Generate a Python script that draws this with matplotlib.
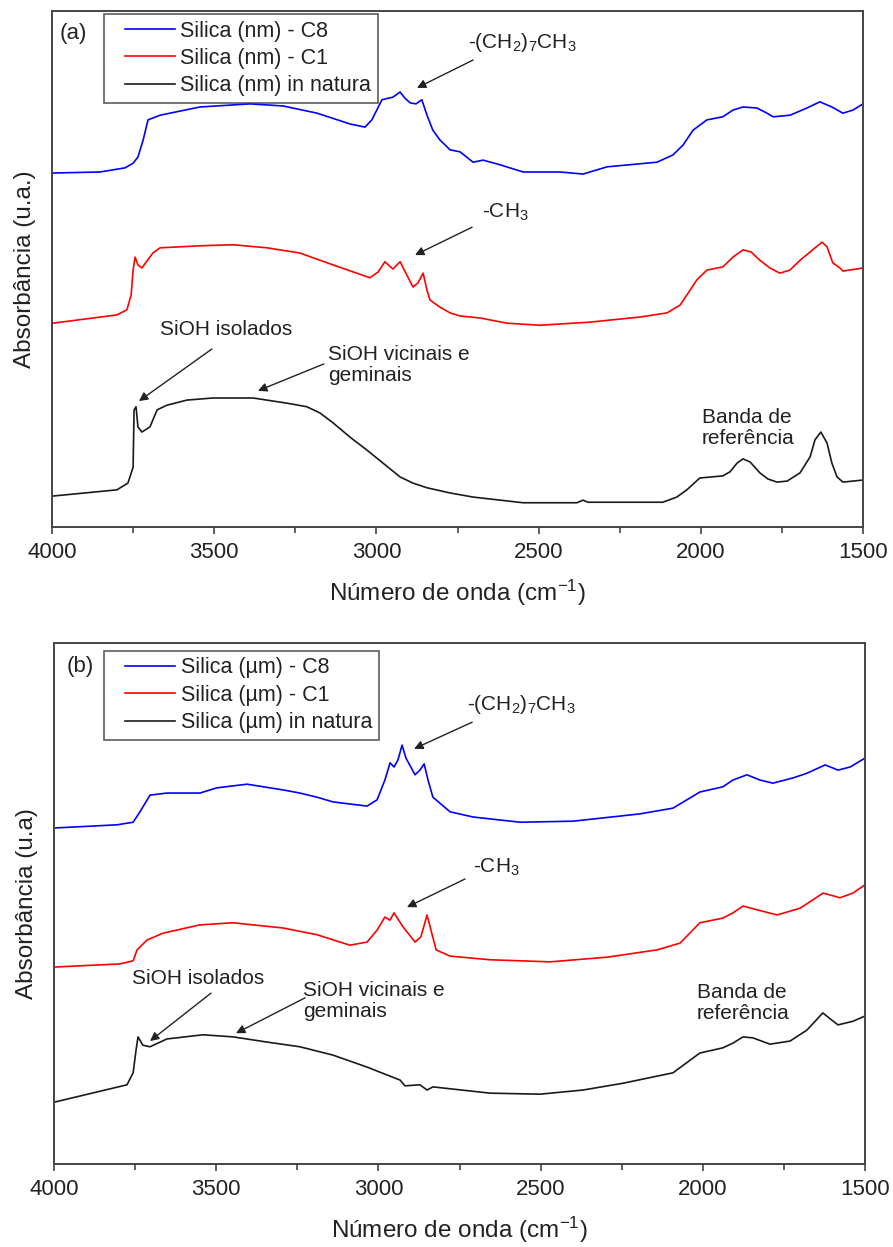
import matplotlib
matplotlib.use("Agg")
import numpy as np
import matplotlib.pyplot as plt
from matplotlib.ticker import MultipleLocator
from matplotlib.legend_handler import HandlerLine2D

plt.rcParams['font.family'] = ['Liberation Sans', 'DejaVu Sans']
plt.rcParams['mathtext.fontset'] = 'custom'
plt.rcParams['mathtext.rm'] = 'Liberation Sans'
plt.rcParams['mathtext.default'] = 'regular'

# ---------------- Panel (a): nano silica ----------------
wn_a_c8 = [4000, 3852, 3775, 3750, 3735, 3719, 3704, 3667, 3544, 3390, 3288, 3183, 3081, 3035,
           3014, 2983, 2949, 2927, 2912, 2896, 2878, 2860, 2844, 2826, 2804, 2773, 2742, 2702,
           2671, 2619, 2548, 2434, 2363, 2289, 2135, 2086, 2055, 2024, 1981, 1932, 1901, 1870,
           1827, 1796, 1777, 1725, 1673, 1633, 1596, 1562, 1531, 1500]
abs_a_c8 = [68.6, 68.8, 69.6, 70.5, 71.7, 75.0, 78.9, 79.8, 81.4, 82.0, 81.6, 80.2, 78.1, 77.5,
            78.9, 82.8, 83.3, 84.3, 83.1, 82.2, 82.0, 82.8, 79.8, 76.9, 75.0, 73.1, 72.7, 70.7,
            71.1, 70.2, 68.8, 68.8, 68.4, 69.8, 70.7, 72.1, 74.0, 76.9, 78.9, 79.5, 80.8, 81.4,
            81.2, 80.2, 79.5, 79.8, 81.2, 82.4, 81.4, 80.2, 80.8, 82.0]

wn_a_c1 = [3997, 3800, 3769, 3756, 3750, 3744, 3735, 3723, 3689, 3667, 3544, 3442, 3337, 3236,
           3134, 3020, 2995, 2974, 2949, 2927, 2906, 2887, 2872, 2856, 2844, 2835, 2804, 2773,
           2742, 2680, 2597, 2496, 2342, 2187, 2104, 2064, 2033, 2012, 1981, 1932, 1901, 1870,
           1845, 1818, 1787, 1756, 1725, 1694, 1663, 1648, 1626, 1611, 1593, 1571, 1562, 1500]
abs_a_c1 = [39.5, 41.1, 42.1, 45.0, 49.8, 52.3, 50.8, 50.2, 53.1, 54.1, 54.5, 54.7, 54.1, 53.1,
            50.8, 48.3, 49.4, 51.4, 50.0, 51.4, 48.8, 46.5, 47.3, 49.2, 45.9, 44.0, 42.6, 41.5,
            40.9, 40.5, 39.5, 39.1, 39.7, 40.7, 41.5, 43.0, 45.9, 47.9, 49.8, 50.4, 52.3, 53.7,
            53.3, 51.7, 50.2, 49.2, 49.8, 51.7, 53.3, 54.1, 55.2, 54.3, 51.2, 50.2, 49.6, 50.2]

wn_a_nat = [3997, 3800, 3766, 3750, 3747, 3741, 3735, 3723, 3698, 3676, 3646, 3584, 3504, 3380,
            3276, 3214, 3174, 3134, 3081, 3029, 2980, 2927, 2887, 2844, 2773, 2702, 2548, 2382,
            2363, 2348, 2117, 2074, 2043, 2003, 1932, 1910, 1888, 1870, 1848, 1818, 1793, 1765,
            1734, 1694, 1663, 1648, 1630, 1611, 1596, 1580, 1562, 1500]
abs_a_nat = [6.0, 7.2, 8.5, 11.6, 22.7, 23.3, 19.4, 18.4, 19.4, 22.7, 23.6, 24.6, 25.0, 25.0,
             24.0, 23.3, 22.1, 20.2, 17.4, 14.9, 12.4, 9.7, 8.5, 7.6, 6.6, 5.8, 4.7, 4.7,
             5.2, 4.8, 4.8, 5.8, 7.2, 9.5, 9.9, 10.7, 12.4, 13.2, 12.6, 10.5, 9.3, 8.7,
             8.9, 10.5, 13.6, 16.9, 18.4, 16.3, 12.4, 9.7, 8.7, 9.1]

# ---------------- Panel (b): micro silica ----------------
wn_b_c8 = [3997, 3806, 3756, 3735, 3704, 3652, 3550, 3498, 3405, 3294, 3242, 3189, 3140, 3088,
           3035, 3004, 2980, 2964, 2952, 2940, 2927, 2915, 2887, 2872, 2859, 2847, 2832, 2779,
           2708, 2563, 2400, 2194, 2092, 2049, 2009, 1938, 1907, 1864, 1824, 1784, 1722, 1679,
           1623, 1583, 1546, 1500]
abs_b_c8 = [64.5, 65.1, 65.6, 67.6, 70.8, 71.2, 71.2, 72.2, 72.9, 71.8, 71.2, 70.4, 69.5, 69.1,
            68.7, 69.9, 73.7, 77.0, 76.2, 77.5, 80.4, 77.9, 74.7, 75.6, 76.8, 73.7, 70.4, 67.6,
            66.6, 65.6, 65.8, 67.2, 68.3, 69.9, 71.4, 72.4, 73.7, 74.7, 73.7, 73.1, 74.1, 75.0,
            76.6, 75.6, 76.2, 77.9]

wn_b_c1 = [4000, 3797, 3756, 3744, 3713, 3664, 3550, 3448, 3294, 3189, 3088, 3035, 3004, 2980,
           2964, 2952, 2924, 2887, 2869, 2850, 2838, 2822, 2779, 2656, 2471, 2295, 2141, 2070,
           2009, 1938, 1907, 1876, 1833, 1771, 1700, 1629, 1577, 1537, 1500]
abs_b_c1 = [37.8, 38.4, 39.0, 41.1, 43.0, 44.3, 45.9, 46.3, 45.3, 44.0, 42.0, 42.6, 44.9, 47.4,
            46.8, 48.2, 45.5, 42.6, 43.6, 47.8, 44.9, 41.1, 39.9, 39.2, 38.8, 39.7, 41.1, 42.4,
            46.3, 47.2, 48.2, 49.5, 48.8, 47.8, 49.1, 52.0, 51.1, 52.0, 53.6]

wn_b_nat = [3997, 3775, 3756, 3747, 3741, 3726, 3704, 3652, 3541, 3448, 3343, 3242, 3140, 3035,
            2933, 2918, 2872, 2850, 2832, 2656, 2502, 2369, 2246, 2092, 2009, 1938, 1907, 1876,
            1845, 1793, 1731, 1679, 1630, 1602, 1583, 1537, 1500]
abs_b_nat = [11.9, 15.2, 17.5, 21.9, 24.4, 22.8, 22.5, 24.0, 24.8, 24.4, 23.4, 22.5, 20.9, 18.6,
             16.1, 15.0, 15.2, 14.2, 14.8, 13.6, 13.4, 14.2, 15.5, 17.5, 21.3, 22.3, 23.2, 24.4,
             24.2, 23.0, 23.6, 25.7, 29.0, 27.6, 26.7, 27.4, 28.4]

labels_a = ['Silica (nm) - C8', 'Silica (nm) - C1', 'Silica (nm) in natura']
labels_b = ['Silica (µm) - C8', 'Silica (µm) - C1', 'Silica (µm) in natura']
ylabels = ['Absorbância (u.a.)', 'Absorbância (u.a)']
panel_tags = ['(a)', '(b)']
xlabel = 'Número de onda (cm$^{-1}$)'
colors = ['#0000ff', '#ff0000', '#1a1a1a']

W, H = 893, 1247
fig = plt.figure(figsize=(W / 100, H / 100), dpi=100)
ax_a = fig.add_axes([52 / W, (H - 527) / H, 811 / W, 516 / H])
ax_b = fig.add_axes([54 / W, (H - 1164) / H, 811 / W, 521 / H])

TXT = '#222222'
SP = '#444444'


class LeadHandler(HandlerLine2D):
    """Legend line drawn only over the right part of the handle box."""
    def __init__(self, lead=0.22, **kw):
        super().__init__(**kw)
        self.lead = lead

    def create_artists(self, legend, orig_handle, xdescent, ydescent, width, height,
                       fontsize, trans):
        arts = super().create_artists(legend, orig_handle, xdescent, ydescent, width,
                                      height, fontsize, trans)
        for a in arts:
            xd = np.asarray(a.get_xdata(), float)
            if len(xd) > 1:
                lo, hi = xd.min(), xd.max()
                a.set_xdata(lo + self.lead * (hi - lo) + (xd - lo) * (1 - self.lead))
        return arts


def style(ax, tag, ylab, labels, series, leg_anchor, tag_pos):
    lines = []
    for (x, y), c, lab in zip(series, colors, labels):
        ln, = ax.plot(x, y, color=c, lw=1.2, label=lab)
        lines.append(ln)
    ax.set_xlim(4000, 1500)
    ax.set_ylim(0, 100)
    ax.xaxis.set_major_locator(MultipleLocator(500))
    ax.xaxis.set_minor_locator(MultipleLocator(250))
    ax.tick_params(axis='x', which='major', direction='out', length=5, width=1.2,
                   labelsize=16, pad=6, colors=SP, labelcolor=TXT)
    ax.tick_params(axis='x', which='minor', direction='out', length=4, width=1.2, colors=SP)
    ax.set_yticks([])
    for s in ax.spines.values():
        s.set_color(SP)
        s.set_linewidth(1.4)
    ax.set_xlabel(xlabel, fontsize=17.5, color=TXT, va='center')
    ax.xaxis.set_label_coords(0.5, -0.127)
    ax.set_ylabel(ylab, fontsize=17.5, color=TXT, va='center')
    ax.yaxis.set_label_coords(-0.033, 0.5)
    hmap = {ln: LeadHandler(lead=0.22) for ln in lines}
    leg = ax.legend(handles=lines, loc='upper left', bbox_to_anchor=leg_anchor,
                    borderaxespad=0, fontsize=15.5, frameon=True, fancybox=False,
                    edgecolor='#333333', handlelength=3.0, handletextpad=0.25,
                    labelspacing=0.3, borderpad=0.3, labelcolor=TXT, handler_map=hmap)
    leg.get_frame().set_linewidth(1.2)
    ax.text(tag_pos[0], tag_pos[1], tag, transform=ax.transAxes, fontsize=16,
            color=TXT, ha='left', va='center')


style(ax_a, panel_tags[0], ylabels[0], labels_a,
      [(wn_a_c8, abs_a_c8), (wn_a_c1, abs_a_c1), (wn_a_nat, abs_a_nat)],
      (0.064, 0.994), (0.010, 0.957))
style(ax_b, panel_tags[1], ylabels[1], labels_b,
      [(wn_b_c8, abs_b_c8), (wn_b_c1, abs_b_c1), (wn_b_nat, abs_b_nat)],
      (0.062, 0.985), (0.015, 0.954))

aprops = dict(arrowstyle='-|>', color='#222222', lw=1.0, mutation_scale=13,
              shrinkA=0, shrinkB=0)


def note(ax, txt, tpos, tail, tip):
    ax.text(tpos[0], tpos[1], txt, fontsize=15, color=TXT, ha='left', va='center',
            linespacing=1.15)
    if tail is not None:
        ax.annotate('', xy=tip, xytext=tail, arrowprops=aprops)


note(ax_a, '-(CH$_2$)$_7$CH$_3$', (2718, 93.8), (2702, 90.5), (2875, 85.1))
note(ax_a, '-CH$_3$', (2675, 60.9), (2705, 58.1), (2881, 52.7))
note(ax_a, 'SiOH isolados', (3667, 38.2), (3507, 34.5), (3732, 24.4))
note(ax_a, 'SiOH vicinais e\ngeminais', (3149, 31.4), (3162, 31.6), (3365, 26.4))
note(ax_a, 'Banda de\nreferência', (1996, 19.2), None, None)

note(ax_b, '-(CH$_2$)$_7$CH$_3$', (2727, 88.1), (2711, 84.8), (2890, 79.7))
note(ax_b, '-CH$_3$', (2708, 57.0), (2733, 54.7), (2912, 49.3))
note(ax_b, 'SiOH isolados', (3760, 35.7), (3516, 32.8), (3704, 23.6))
note(ax_b, 'SiOH vicinais e\ngeminais', (3232, 31.3), (3226, 31.9), (3439, 25.1))
note(ax_b, 'Banda de\nreferência', (2018, 30.9), None, None)

fig.savefig('out.png', dpi=100)
